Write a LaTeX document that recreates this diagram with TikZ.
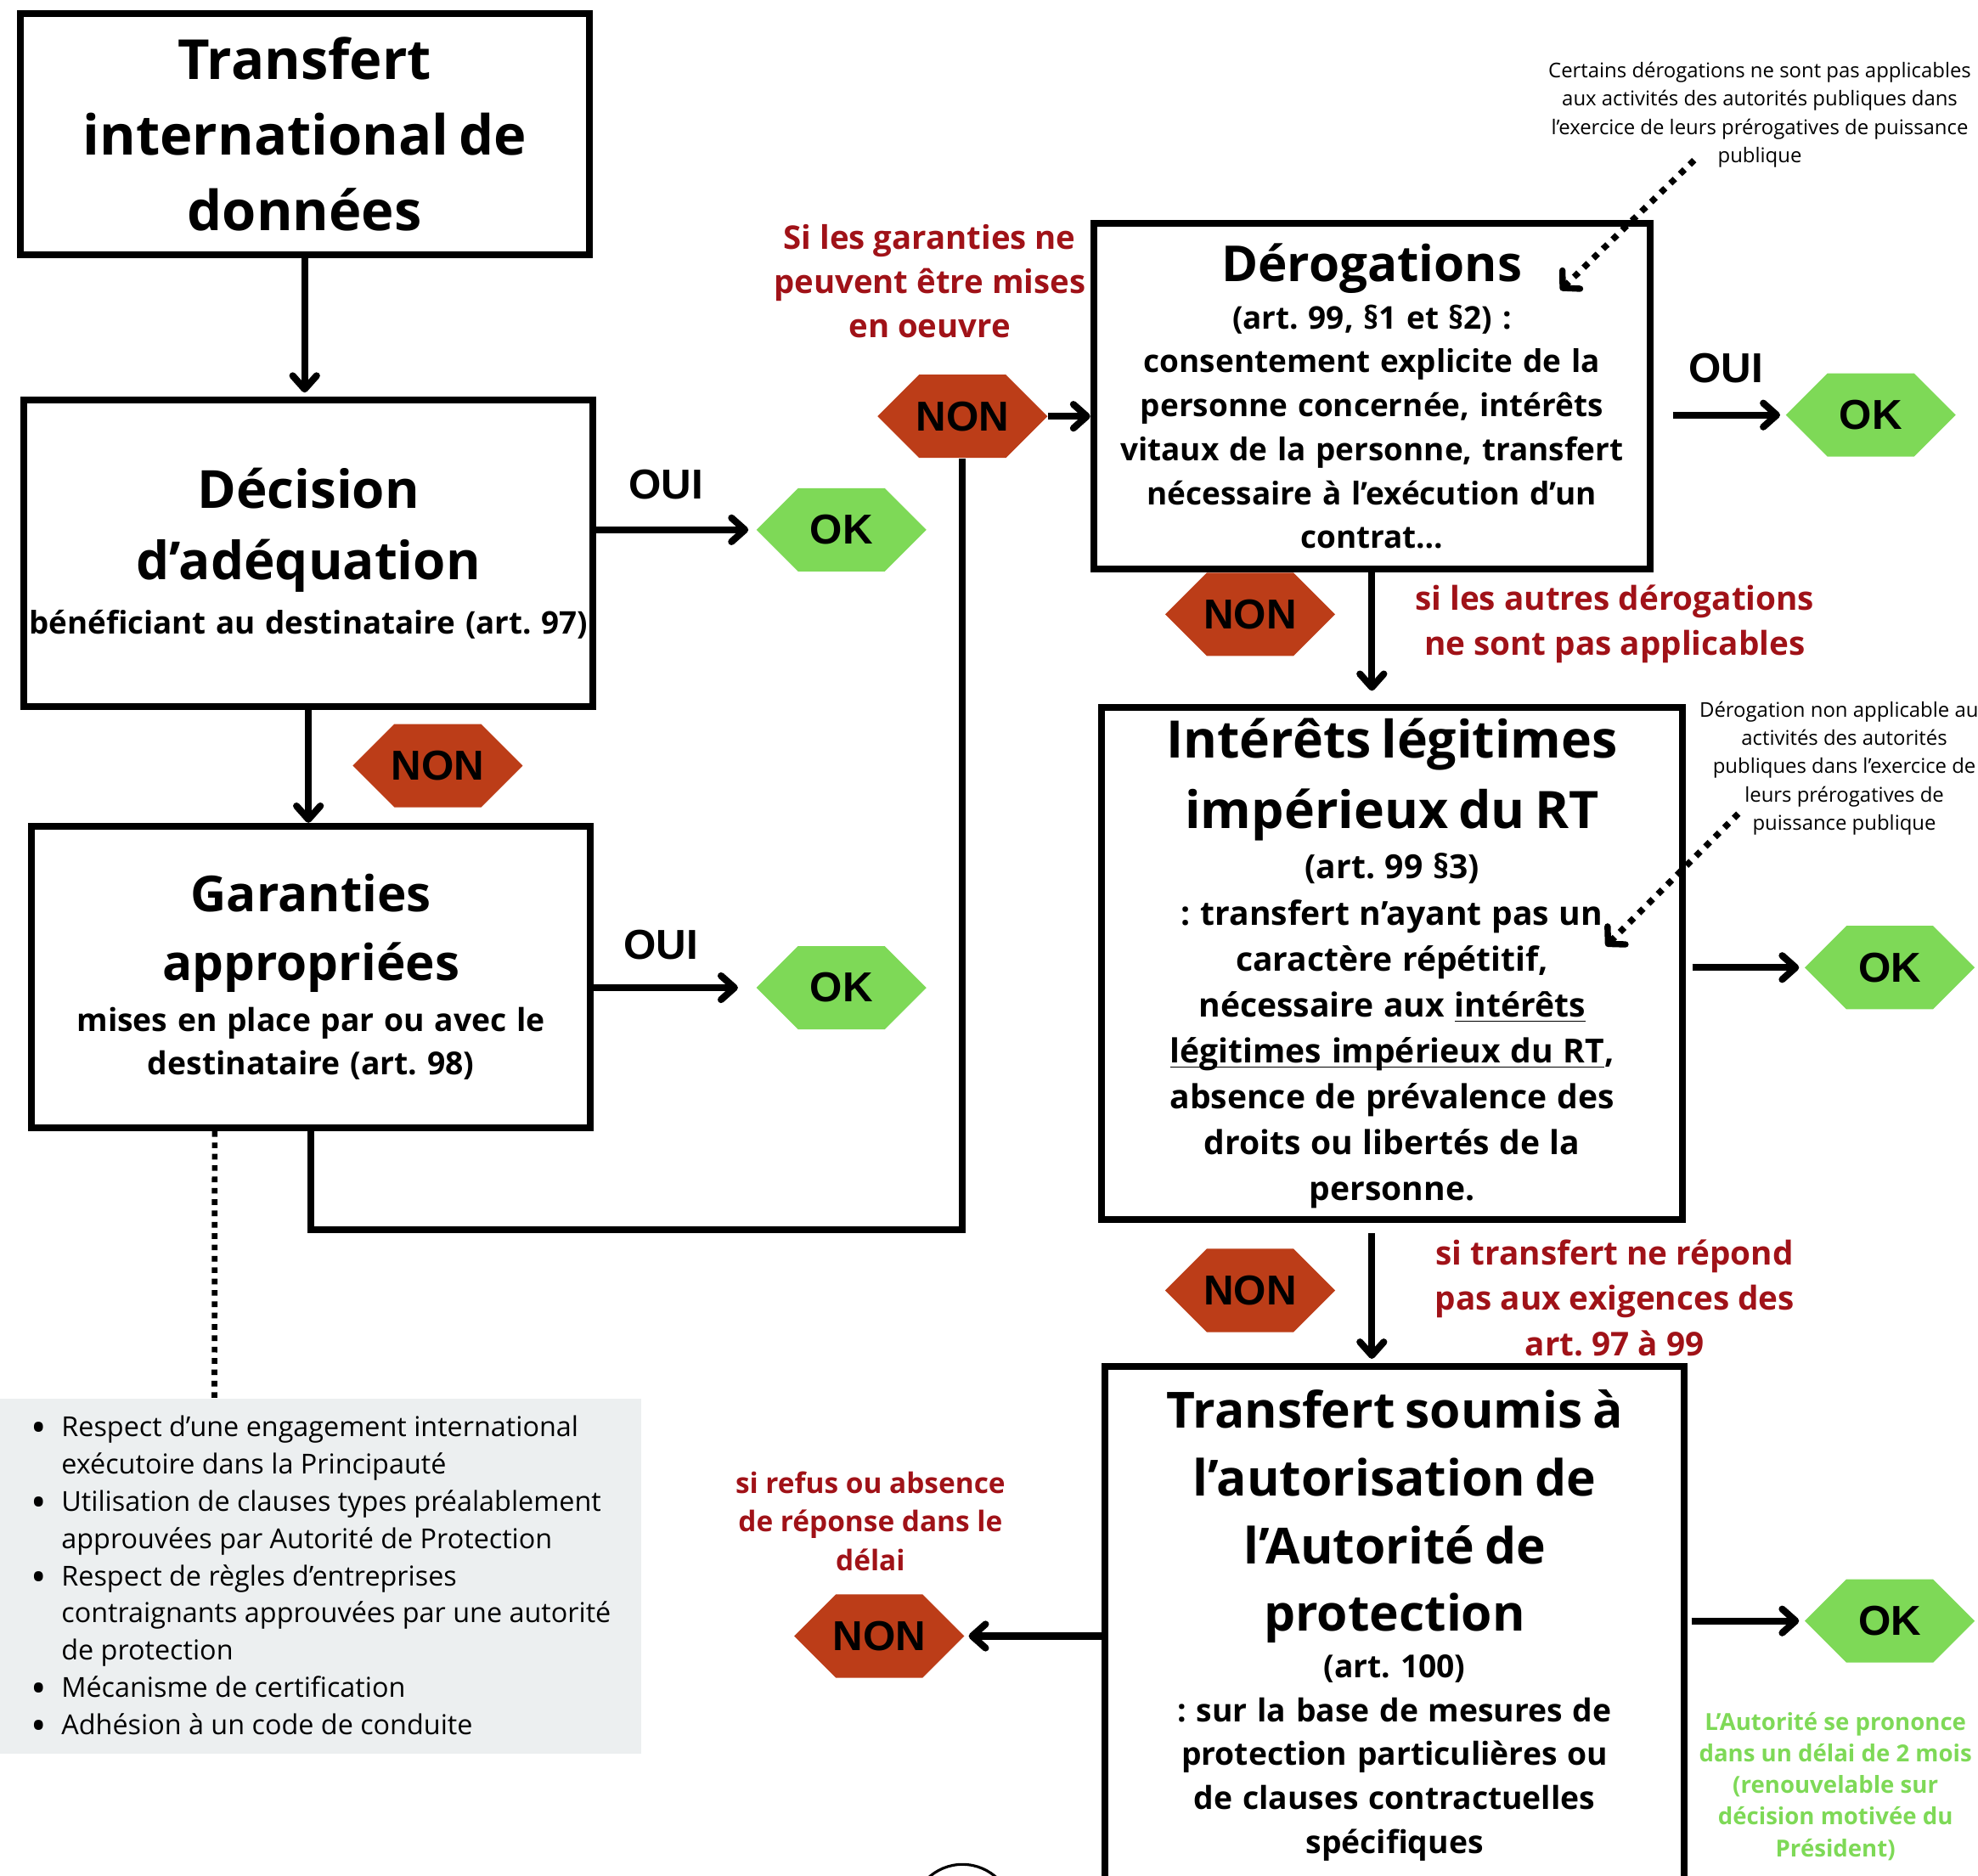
\documentclass[tikz,border=0pt]{standalone}
\usepackage{fontspec}
\setmainfont{Open Sans}
\newfontfamily\hexfont{Liberation Sans}
\usetikzlibrary{arrows.meta,fit,calc}
\frenchspacing

\definecolor{rougenon}{RGB}{188,61,24}
\definecolor{vertok}{RGB}{126,217,87}
\definecolor{rougetexte}{RGB}{160,18,24}
\definecolor{grisliste}{RGB}{236,239,240}

\newcommand{\px}{0.014853cm}
\newcommand{\soulign}[1]{\underline{\smash{#1}}}
\newcommand{\puce}{\makebox[0.36cm][l]{\raisebox{-2pt}{\fontsize{14}{12}\selectfont\textbullet}}}
\newcommand{\retrait}{\hspace*{0.36cm}}

\tikzset{
  boite/.style={draw, line width=2.3pt, inner sep=0pt, align=center, font=\bfseries},
  hexa/.style={minimum width=2cm, minimum height=0.98cm, inner sep=0pt,
    font=\hexfont\bfseries\fontsize{14}{14}\selectfont,
    path picture={\fill[#1] (path picture bounding box.west) -- ++(0.49cm,0.49cm)
      -- ++(1.02cm,0) -- ++(0.49cm,-0.49cm) -- ++(-0.49cm,-0.49cm)
      -- ++(-1.02cm,0) -- cycle;}},
  non/.style={hexa=rougenon},
  ok/.style={hexa=vertok},
  oui/.style={font=\hexfont\bfseries\fontsize{14}{14}\selectfont},
  fleche/.style={line width=2.3pt, -{Straight Barb[length=4.5pt,width=8pt,round]}},
  ligne/.style={line width=2.3pt},
  pointille/.style={line width=1.9pt, dash pattern=on 1.9pt off 1.9pt},
  pointfleche/.style={line width=2.1pt, dash pattern=on 2.1pt off 2.4pt,
    -{Straight Barb[length=4pt,width=8.5pt,round]}},
  rouge/.style={text=rougetexte, align=center, font=\bfseries\fontsize{10.9}{14.7}\selectfont},
  note/.style={align=center, font=\fontsize{6.8}{9.5}\selectfont},
}

\begin{document}
\begin{tikzpicture}[x=\px, y=-\px]
\useasboundingbox (0,0) rectangle (1568,1487);

% boites
\node (transfert) [boite, minimum width=451*\px, minimum height=191*\px, text width=6.55cm] at (241.5,106.5)
  {{\fontsize{18.5}{25.3}\selectfont Transfert\\international de\\données\par}};
\node (decision) [boite, minimum width=451*\px, minimum height=243*\px, text width=6.7cm] at (244.5,438.5)
  {{\fontsize{17.6}{24}\selectfont Décision\\d’adéquation\par}
   {\fontsize{10.45}{18.1}\selectfont \mbox{bénéficiant au destinataire (art. 97)}\par}};
\node (garanties) [boite, minimum width=443*\px, minimum height=239*\px, text width=6.5cm] at (246.5,774.5)
  {{\fontsize{16.6}{23.1}\selectfont Garanties\\appropriées\par}\vspace{2.2pt}
   {\fontsize{10.6}{14.7}\selectfont mises en place par ou avec le\\destinataire (art. 98)\par}};
\node (derogations) [boite, minimum width=441*\px, minimum height=274*\px, text width=6.4cm] at (1087.5,314)
  {{\fontsize{16.6}{23}\selectfont Dérogations\par}\vspace{1.2pt}
   {\fontsize{10.5}{14.7}\selectfont (art. 99, §1 et §2) :\\consentement explicite de la\\personne concernée, intérêts\\vitaux de la personne, transfert\\nécessaire à l’exécution d’un\\contrat…\par}};
\node (interets) [boite, minimum width=461*\px, minimum height=406*\px, text width=6.7cm] at (1103.5,764)
  {{\fontsize{17.3}{23.6}\selectfont Intérêts légitimes\\impérieux du RT\par}\vspace{1.4pt}
   {\fontsize{11.1}{15.4}\selectfont (art. 99 §3)\\: transfert n’ayant pas un\\caractère répétitif,\\nécessaire aux \soulign{intérêts}\\\soulign{légitimes impérieux du RT},\\absence de prévalence des\\droits ou libertés de la\\personne.\par}};
\node (autorisation) [boite, minimum width=459*\px, minimum height=411*\px, text width=6.6cm] at (1105.5,1288.5)
  {{\fontsize{16.7}{22.7}\selectfont Transfert soumis à\\l’autorisation de\\l’Autorité de\\protection\par}\vspace{0.8pt}
   {\fontsize{10.6}{14.7}\selectfont (art. 100)\\: sur la base de mesures de\\protection particulières ou\\de clauses contractuelles\\spécifiques\par}};

% hexagones
\node (okDec) [ok] at (667,420) {OK};
\node (okGar) [ok] at (667,783) {OK};
\node (okDer) [ok] at (1483,329) {OK};
\node (okInt) [ok] at (1498,767) {OK};
\node (okAut) [ok] at (1498,1285) {OK};
\node (nonDec) [non] at (347,607) {NON};
\node (nonGar) [non] at (763,330) {NON};
\node (nonDer) [non] at (991,487) {NON};
\node (nonInt) [non] at (991,1023) {NON};
\node (nonAut) [non] at (697,1297) {NON};

\node (ouiDec) [oui] at (528,384) {OUI};
\node (ouiGar) [oui] at (524,749) {OUI};
\node (ouiDer) [oui] at (1368,292) {OUI};

% textes
\node (siGar) [rouge] at (737,223) {Si les garanties ne\\peuvent être mises\\en oeuvre};
\node (siDer) [rouge, font=\bfseries\fontsize{11}{15.1}\selectfont] at (1280,495)
  {si les autres dérogations\\ne sont pas applicables};
\node (siInt) [rouge, font=\bfseries\fontsize{11}{15.1}\selectfont] at (1280,1029)
  {si transfert ne répond\\pas aux exigences des\\art. 97 à 99};
\node (siAut) [rouge, font=\bfseries\fontsize{9.5}{13}\selectfont] at (690,1206)
  {si refus ou absence\\de réponse dans le\\délai};
\node (delai) [text=vertok, align=center, font=\bfseries\fontsize{7.85}{10.6}\selectfont] at (1455,1416)
  {L’Autorité se prononce\\dans un délai de 2 mois\\(renouvelable sur\\décision motivée du\\Président)};
\node (noteDer) [note] at (1395,91)
  {Certains dérogations ne sont pas applicables\\aux activités des autorités publiques dans\\l’exercice de leurs prérogatives de puissance\\publique};
\node (noteInt) [note] at (1462,609)
  {Dérogation non applicable aux\\activités des autorités\\publiques dans l’exercice de\\leurs prérogatives de\\puissance publique};

% liste
\node (liste) [fill=grisliste, inner sep=0pt, fit={(0,1109) (508,1390)}] {};
\node (puces) [anchor=north west, align=left, inner sep=0pt, font=\fontsize{9.2}{12.46}\selectfont] at (24,1122)
  {\puce Respect d’une engagement international\\\retrait exécutoire dans la Principauté\\\puce Utilisation de clauses types préalablement\\\retrait approuvées par Autorité de Protection\\\puce Respect de règles d’entreprises\\\retrait contraignants approuvées par une autorité\\\retrait de protection\\\puce Mécanisme de certification\\\puce Adhésion à un code de conduite};

% fleches
\draw[fleche, shorten >=1.3pt] (transfert.south) -- (transfert.south |- decision.north);
\draw[fleche, shorten >=2.5pt] (decision.east |- okDec.west) -- (okDec.west);
\draw[fleche] (decision.south) -- (decision.south |- garanties.north);
\draw[fleche, shorten >=6pt] (garanties.east |- okGar.west) -- (okGar.west);
\draw[ligne] (garanties.south) -- ++(0,78) -| (nonGar.south);
\draw[fleche] (nonGar.east) -- (nonGar.east -| derogations.west);
\draw[fleche, shorten <=6.5pt, shorten >=1.7pt] (derogations.east |- okDer.west) -- (okDer.west);
\draw[fleche, shorten >=4.5pt] (derogations.south) -- (derogations.south |- interets.north);
\draw[fleche, shorten <=2pt, shorten >=1.7pt] (interets.east |- okInt.west) -- (okInt.west);
\draw[fleche, shorten <=3.3pt, shorten >=1.3pt] (interets.south -| derogations.south) -- (autorisation.north -| derogations.south);
\draw[fleche, shorten >=1.3pt] (autorisation.west |- nonAut.east) -- (nonAut.east);
\draw[fleche, shorten <=1.3pt, shorten >=1.7pt] (autorisation.east |- okAut.west) -- (okAut.west);

% pointilles
\draw[pointille] ($(garanties.south west)!0.33!(garanties.south east)$) -- ($(liste.north west)!0.335!(liste.north east)$);
\coordinate (depNoteDer) at (1343,127);
\coordinate (finNoteDer) at (1237,230);
\draw[pointfleche] (depNoteDer) -- (finNoteDer);
\coordinate (depNoteInt) at (1378,645);
\coordinate (finNoteInt) at (1273,750);
\draw[pointfleche] (depNoteInt) -- (finNoteInt);

\draw[line width=0.9pt] (763,1518) circle[radius=40];
\end{tikzpicture}
\end{document}
